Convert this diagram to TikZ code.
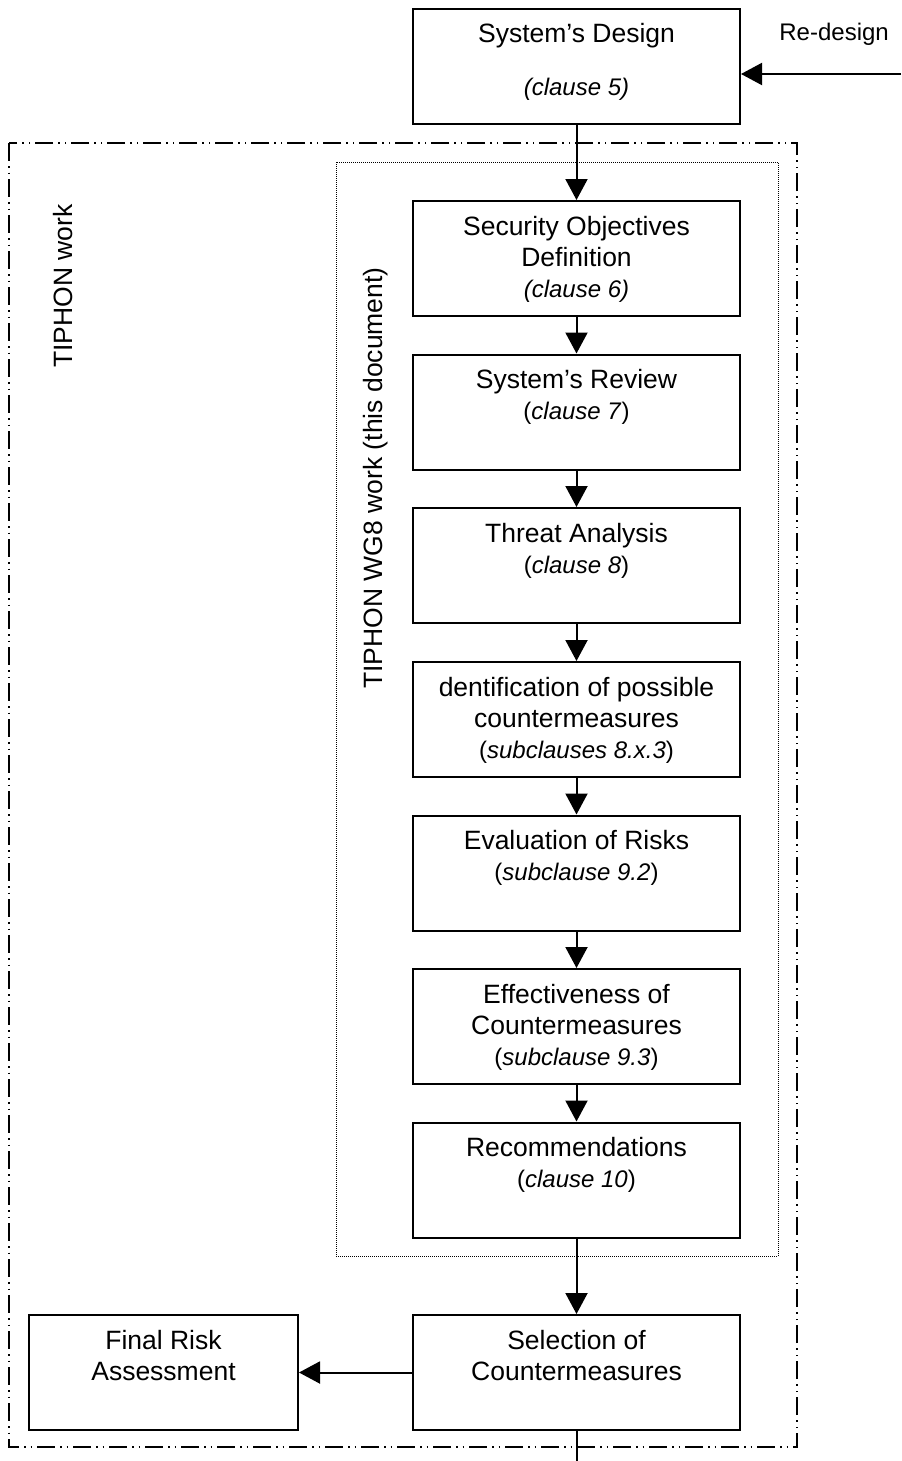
\documentclass[tikz,border=0pt]{standalone}
\usepackage{fontspec}
\setmainfont{Liberation Sans}
\usetikzlibrary{arrows.meta}
\newcommand\clauseref[1]{{\fontsize{12}{15.5}\selectfont #1}}
\newcommand\steptext[1]{\begin{tabular}[t]{@{}c@{}}#1\end{tabular}}
\begin{document}
\begin{tikzpicture}[x=0.5pt,y=-0.5pt,
  stepbox/.style={draw, line width=1pt, minimum width=163.5pt, minimum height=57.5pt, inner sep=0pt},
  boxtext/.style={anchor=base, inner sep=0pt, font=\fontsize{13.25}{15.5}\selectfont},
  flow/.style={line width=1pt, -{Triangle[length=10.5pt,width=11pt]}},
  sidelabel/.style={rotate=90, anchor=base west, inner sep=0pt, font=\fontsize{13.25}{15.5}\selectfont},
  outerframe/.style={line width=1pt, dash pattern=on 9pt off 2.5pt on 0.75pt off 2.5pt on 0.75pt off 2.5pt},
  innerframe/.style={line width=0.5pt, dash pattern=on 0.5pt off 0.5pt},
]
\useasboundingbox (0,0) rectangle (901,1461);
\fill[white] (0,0) rectangle (901,1461);

% work frames
\draw[outerframe] (9,143) rectangle (797,1447);
\draw[innerframe] (336,162) rectangle (778,1256);
\node[sidelabel] (tw) at (72,368) {TIPHON work};
\node[sidelabel] (wg) at (382.5,689) {TIPHON WG8 work (this document)};

% process steps
\node[stepbox] (sd) at (576.5,66.5) {};
\node[boxtext] (sdt) at ([yshift=-17.5pt]sd.north) {\steptext{System’s Design\\[11pt]\clauseref{\textit{(clause 5)}}}};

\node[stepbox] (b1) at (576.5,258.5) {};
\node[boxtext] (b1t) at ([yshift=-17.5pt]b1.north) {\steptext{Security Objectives\\Definition\\\clauseref{\textit{(clause 6)}}}};

\node[stepbox] (b2) at (576.5,412) {};
\node[boxtext] (b2t) at ([yshift=-17.5pt]b2.north) {\steptext{System’s Review\\\clauseref{(\textit{clause 7})}}};

\node[stepbox] (b3) at (576.5,565.5) {};
\node[boxtext] (b3t) at ([yshift=-17.5pt]b3.north) {\steptext{Threat Analysis\\\clauseref{(\textit{clause 8})}}};

\node[stepbox] (b4) at (576.5,719.5) {};
\node[boxtext] (b4t) at ([yshift=-17.5pt]b4.north) {\steptext{dentification of possible\\countermeasures\\\clauseref{(\textit{subclauses 8.x.3})}}};

\node[stepbox] (b5) at (576.5,873) {};
\node[boxtext] (b5t) at ([yshift=-17.5pt]b5.north) {\steptext{Evaluation of Risks\\\clauseref{(\textit{subclause 9.2})}}};

\node[stepbox] (b6) at (576.5,1026.5) {};
\node[boxtext] (b6t) at ([yshift=-17.5pt]b6.north) {\steptext{Effectiveness of\\Countermeasures\\\clauseref{(\textit{subclause 9.3})}}};

\node[stepbox] (b7) at (576.5,1180) {};
\node[boxtext] (b7t) at ([yshift=-17.5pt]b7.north) {\steptext{Recommendations\\\clauseref{(\textit{clause 10})}}};

\node[stepbox] (sel) at (576.5,1372.5) {};
\node[boxtext] (selt) at ([yshift=-17.5pt]sel.north) {\steptext{Selection of\\Countermeasures}};

\node[stepbox, minimum width=134.5pt] (fr) at (163.5,1372.5) {};
\node[boxtext] (frt) at ([yshift=-17.5pt]fr.north) {\steptext{Final Risk\\Assessment}};

% feedback input
\node[anchor=base west, inner sep=0pt, font=\fontsize{12}{14}\selectfont] (rd) at (779,41) {Re-design};
\coordinate (rdin) at (901,74);
\draw[flow] (rdin) -- (rdin -| sd.east);

% flow connectors
\draw[flow] (sd.south) -- (b1.north);
\draw[flow] (b1.south) -- (b2.north);
\draw[flow] (b2.south) -- (b3.north);
\draw[flow] (b3.south) -- (b4.north);
\draw[flow] (b4.south) -- (b5.north);
\draw[flow] (b5.south) -- (b6.north);
\draw[flow] (b6.south) -- (b7.north);
\draw[flow] (b7.south) -- (sel.north);
\draw[flow] (sel.west) -- (fr.east);
\coordinate (out) at (576.5,1461);
\draw[line width=1pt] (sel.south) -- (out);
\end{tikzpicture}
\end{document}
